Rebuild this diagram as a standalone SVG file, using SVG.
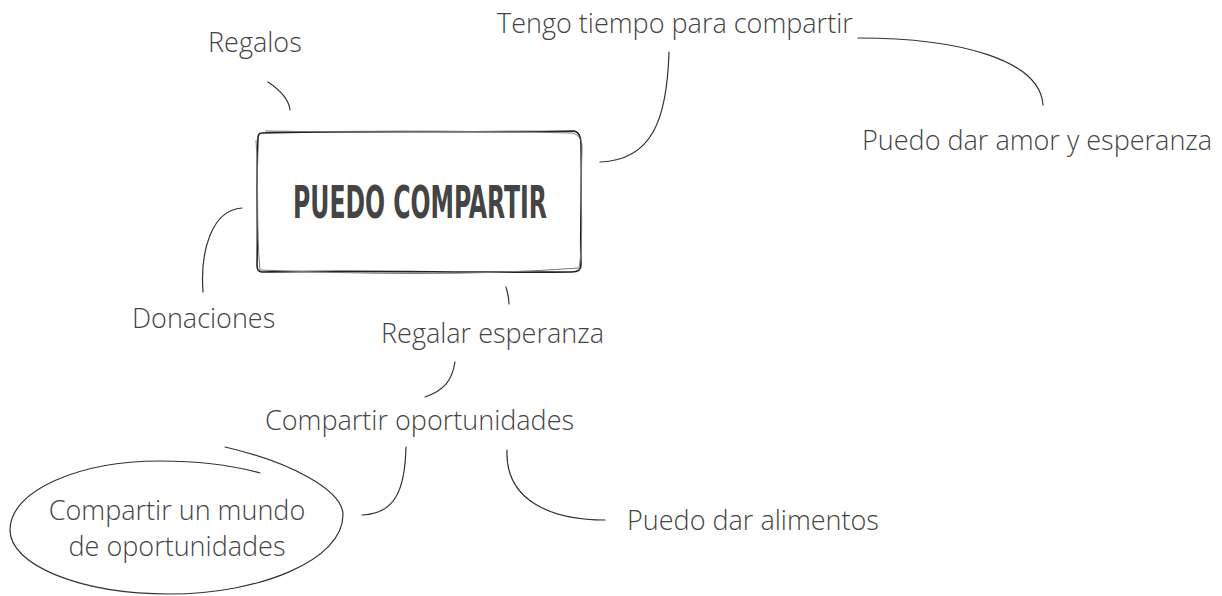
<svg xmlns="http://www.w3.org/2000/svg" width="1222" height="596" viewBox="0 0 1222 596">
<style>
.t{font-family:"Open Sans","Liberation Sans",sans-serif;font-size:27px;fill:#444;font-weight:300}
.c{fill:none;stroke:#333;stroke-width:1.2;stroke-linecap:round}
.b{fill:none;stroke:#222;stroke-width:1.6;stroke-linejoin:round}
.b2{fill:none;stroke:#777;stroke-width:1}
.title{font-family:"DejaVu Sans Condensed","Liberation Sans",sans-serif;font-weight:bold;font-size:45px;fill:#444}
</style>
<rect width="1222" height="596" fill="#fff"/>
<g id="connectors">
<path class="c" d="M268,82 C280,90 289,100 290,110"/>
<path class="c" d="M669,52 C667,120 652,160 600,162"/>
<path class="c" d="M858,38 C960,38 1040,60 1043,105"/>
<path class="c" d="M242,208 C212,210 200,250 203,292"/>
<path class="c" d="M506,287 C508,294 509,299 509,304"/>
<path class="c" d="M455,362 C452,380 445,390 425,397"/>
<path class="c" d="M406,447 C405,490 395,514 362,515"/>
<path class="c" d="M507,450 C505,500 550,520 605,520"/>
</g>
<g id="n-main">
<path class="b" d="M262,133 C360,130 480,133 574,131 C580,132 581,138 581,145 C582,190 580,230 581,265 C581,270 578,272 572,272 C470,273 360,270 262,272 C258,272 257,269 257,265 C258,220 256,180 258,138 C258,135 259,133 262,133 Z"/>
<path class="b2" d="M265,131 C370,133 470,130 572,133 C578,134 583,140 582,150 C580,200 584,240 579,268 C470,276 360,274 260,270 C256,230 259,180 256,140"/>
<text class="title" x="420" y="218" text-anchor="middle" textLength="254" lengthAdjust="spacingAndGlyphs">PUEDO COMPARTIR</text>
</g>
<g id="n-regalos"><text class="t" x="208" y="52">Regalos</text></g>
<g id="n-tengo"><text class="t" x="497" y="33">Tengo tiempo para compartir</text></g>
<g id="n-amor"><text class="t" x="862" y="150">Puedo dar amor y esperanza</text></g>
<g id="n-donaciones"><text class="t" x="132" y="328">Donaciones</text></g>
<g id="n-regalar"><text class="t" x="381" y="343">Regalar esperanza</text></g>
<g id="n-oportunidades"><text class="t" x="265" y="430">Compartir oportunidades</text></g>
<g id="n-alimentos"><text class="t" x="627" y="530">Puedo dar alimentos</text></g>
<g id="n-mundo">
<path class="c" d="M225,447 C290,462 343,490 343,515 C343,560 260,594 170,594 C80,594 10,565 10,530 C10,490 80,461 160,461 C200,461 235,466 260,473"/>
<text class="t" x="177" y="520" text-anchor="middle">Compartir un mundo</text>
<text class="t" x="177" y="556" text-anchor="middle">de oportunidades</text>
</g>
</svg>
